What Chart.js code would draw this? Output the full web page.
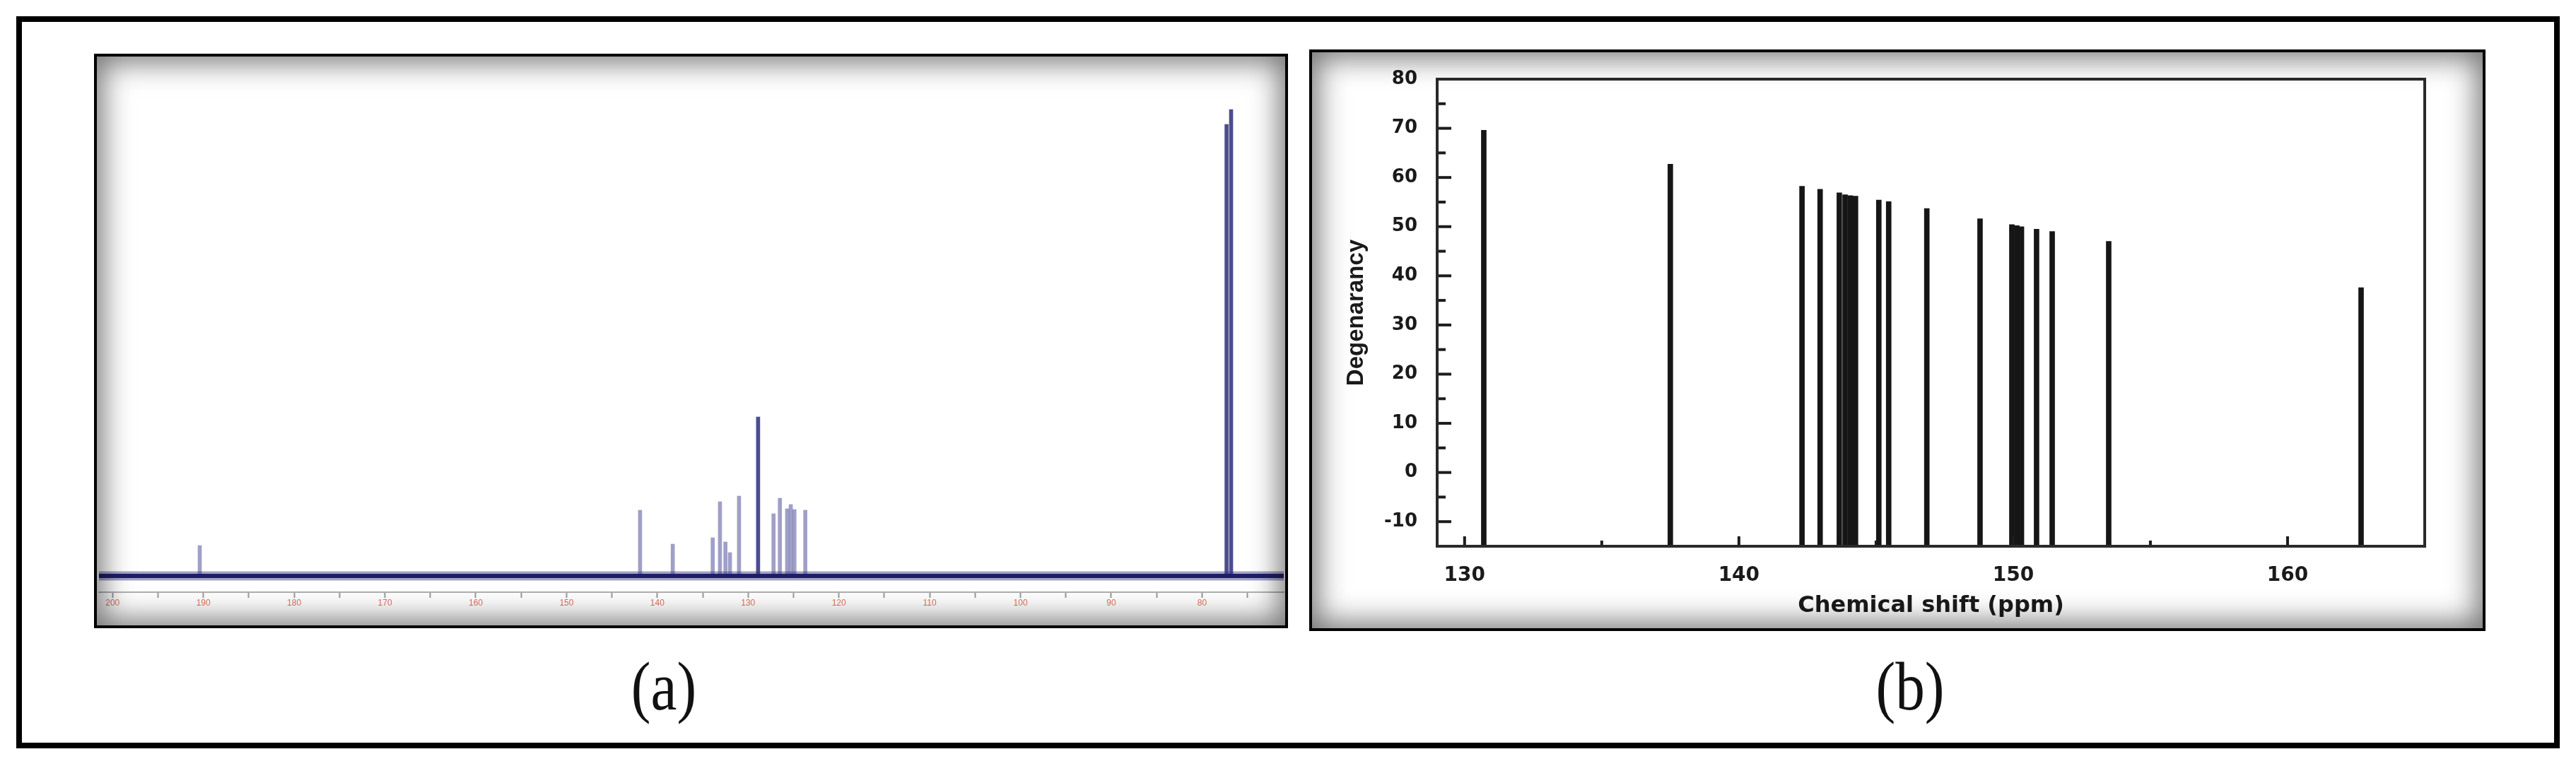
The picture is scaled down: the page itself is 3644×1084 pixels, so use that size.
<!DOCTYPE html>
<html>
<head>
<meta charset="utf-8">
<script src="https://cdn.jsdelivr.net/npm/chart.js@4.4.1/dist/chart.umd.min.js"></script>
<style>
  html, body { margin: 0; padding: 0; background: #fff; }
  body { width: 3644px; height: 1084px; position: relative; overflow: hidden; }
  .outer { position: absolute; left: 23px; top: 23px; width: 3598px; height: 1036px; border: 8px solid #000; box-sizing: border-box; }
  .panel { position: absolute; border: 4px solid #000; box-sizing: border-box; background: #fff; }
  .panel canvas { position: absolute; left: 0; top: 0; }
  .shade { position: absolute; left: 0; top: 0; right: 0; bottom: 0; box-shadow: inset 0 0 42px 8px rgba(0,0,0,0.55); pointer-events: none; }
  .tag { position: absolute; font-family: 'Liberation Serif', serif; font-size: 98px; line-height: 1; transform: translate(-50%, -50%) scaleX(0.85); color: #111; }
</style>
</head>
<body>
<div class="outer"></div>
<div class="panel" style="left:133px; top:76px; width:1689px; height:813px;">
  <canvas id="nmr" width="1681" height="805"></canvas>
  <div class="shade"></div>
</div>
<div class="panel" style="left:1852px; top:70px; width:1664px; height:823px;">
  <canvas id="degen" width="1656" height="815"></canvas>
  <div class="shade"></div>
</div>
<div class="tag" style="left:939px; top:971px;">(a)</div>
<div class="tag" style="left:2702px; top:971px;">(b)</div>

<script>
// (a) 13C NMR spectrum: peak positions (ppm) and intensities (arbitrary units)
const nmrShift = [190.4, 141.9, 138.3, 133.9, 133.1, 132.5, 132.0, 131.0, 128.9,
                  127.2, 126.5, 125.7, 125.3, 124.9, 123.7, 77.3, 76.8];
const nmrIntensity = [43, 93, 45, 54, 105, 48, 33, 113, 225,
                      88, 110, 95, 101, 94, 93, 639, 660];
const nmrRange = [71, 201.5];
const nmrLabels = [200, 190, 180, 170, 160, 150, 140, 130, 120, 110, 100, 90, 80];

// (b) calculated shifts vs degeneracy
const degShift = [130.7, 137.5, 142.3, 142.96, 143.66, 143.87, 144.06, 144.25, 145.1, 145.46,
                  146.85, 148.79, 149.95, 150.13, 150.3, 150.85, 151.42, 153.48, 162.68];
const degValue = [69.6, 62.7, 58.2, 57.6, 56.9, 56.5, 56.3, 56.2, 55.4, 55.1,
                  53.7, 51.6, 50.4, 50.2, 50.0, 49.5, 49.0, 47.0, 37.6];
const degXLabels = [130, 140, 150, 160];
const degYLabels = [-10, 0, 10, 20, 30, 40, 50, 60, 70, 80];
const degXRange = [129, 165];
const degYRange = [-15, 80];

new Chart(document.getElementById('nmr'), {
  type: 'bar',
  data: {
    datasets: [{
      type: 'line',
      data: nmrRange.map(v => ({x: v, y: 0})),
      borderColor: 'rgba(50,50,125,0.45)',
      borderWidth: 13,
      pointRadius: 0,
      order: 1
    }, {
      type: 'line',
      data: nmrRange.map(v => ({x: v, y: 0})),
      borderColor: '#1e1e68',
      borderWidth: 6,
      pointRadius: 0,
      order: 0
    }, {
      data: nmrShift.map((s, i) => ({x: s, y: [0, nmrIntensity[i]]})),
      backgroundColor: ctx => (ctx.raw && ctx.raw.y[1] > 200) ? 'rgba(45,45,125,0.85)' : 'rgba(80,80,155,0.55)',
      barThickness: 5,
      order: 2
    }]
  },
  options: {
    responsive: false,
    animation: false,
    layout: {padding: {left: 3, right: 2, top: 20, bottom: 0}},
    plugins: {legend: {display: false}, tooltip: {enabled: false}},
    scales: {
      x: {
        type: 'linear',
        reverse: true,
        offset: false,
        min: nmrRange[0],
        max: nmrRange[1],
        afterFit: s => { s.height = 47; },
        grid: {
          offset: false,
          drawOnChartArea: false,
          tickLength: 8,
          tickWidth: 2,
          tickColor: ctx => (ctx.tick && ctx.tick.value % 5 === 0) ? '#9a9a9a' : 'rgba(0,0,0,0)'
        },
        border: {color: '#b0b0b0', width: 2},
        ticks: {
          stepSize: 5,
          includeBounds: false,
          autoSkip: false,
          maxRotation: 0,
          padding: 0,
          color: '#e0705e',
          font: {family: 'Liberation Sans', size: 12},
          callback: v => nmrLabels.includes(v) ? String(v) : ''
        }
      },
      y: {display: false, min: -23, max: 715}
    }
  }
});

const innerTicks = {
  id: 'innerTicks',
  afterDatasetsDraw(chart) {
    const {ctx, chartArea: a, scales: {x, y}} = chart;
    ctx.save();
    ctx.strokeStyle = '#1c1c1c';
    ctx.lineWidth = 4;
    y.ticks.forEach(t => {
      if (t.value <= y.min || t.value >= y.max) return;
      const py = y.getPixelForValue(t.value);
      const len = t.value % 10 === 0 ? 20 : 12;
      ctx.beginPath(); ctx.moveTo(a.left, py); ctx.lineTo(a.left + len, py); ctx.stroke();
    });
    x.ticks.forEach(t => {
      if (t.value <= x.min || t.value >= x.max) return;
      const px = x.getPixelForValue(t.value);
      const len = t.value % 10 === 0 ? 14 : 8;
      ctx.beginPath(); ctx.moveTo(px, a.bottom); ctx.lineTo(px, a.bottom - len); ctx.stroke();
    });
    ctx.strokeStyle = '#2a2a2a';
    ctx.strokeRect(a.left, a.top, a.right - a.left, a.bottom - a.top);
    ctx.restore();
  }
};

new Chart(document.getElementById('degen'), {
  type: 'bar',
  data: {
    datasets: [{
      data: degShift.map((s, i) => ({x: s, y: [degYRange[0], degValue[i]]})),
      backgroundColor: '#161616',
      barThickness: 7
    }]
  },
  options: {
    responsive: false,
    animation: false,
    layout: {padding: {left: 0, right: 82, top: 38, bottom: 0}},
    plugins: {legend: {display: false}, tooltip: {enabled: false}},
    scales: {
      x: {
        type: 'linear',
        offset: false,
        min: degXRange[0],
        max: degXRange[1],
        afterFit: s => { s.height = 116; },
        grid: {display: false, offset: false},
        border: {display: false},
        ticks: {
          stepSize: 5,
          includeBounds: false,
          autoSkip: false,
          maxRotation: 0,
          padding: 17,
          color: '#1a1a1a',
          font: {family: 'DejaVu Sans', size: 28, weight: 'bold'},
          callback: v => degXLabels.includes(v) ? String(v) : ''
        },
        title: {
          display: true,
          text: 'Chemical shift (ppm)',
          color: '#1a1a1a',
          font: {family: 'DejaVu Sans', size: 32, weight: 'bold'},
          padding: {top: 0, bottom: 12}
        }
      },
      y: {
        min: degYRange[0],
        max: degYRange[1],
        afterFit: s => { s.width = 177; },
        grid: {display: false},
        border: {display: false},
        ticks: {
          stepSize: 5,
          autoSkip: false,
          padding: 20,
          color: '#1a1a1a',
          font: {family: 'DejaVu Sans', size: 26, weight: 'bold'},
          callback: v => degYLabels.includes(v) ? String(v) : ''
        },
        title: {
          display: true,
          text: 'Degenarancy',
          color: '#1a1a1a',
          font: {family: 'Liberation Sans', size: 33, weight: 'bold'},
          padding: {top: 43, bottom: 0}
        }
      }
    }
  },
  plugins: [innerTicks]
});
</script>
</body>
</html>
